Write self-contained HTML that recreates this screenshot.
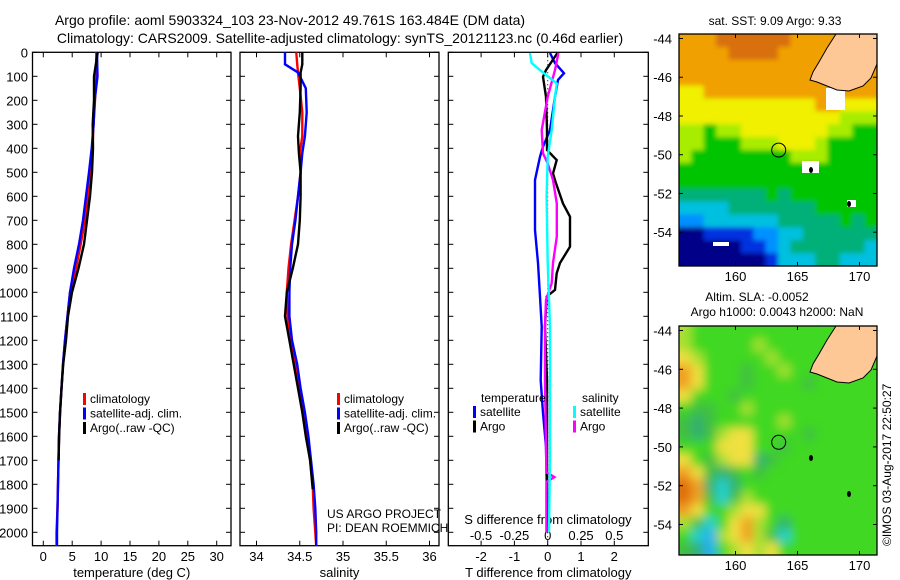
<!DOCTYPE html>
<html><head><meta charset="utf-8">
<style>
html,body{margin:0;padding:0;background:#fff;}
svg{display:block;font-family:"Liberation Sans",Arial,sans-serif;}
text{fill:#000;}
</style></head>
<body>
<svg id="fig" width="900" height="580" viewBox="0 0 900 580" xmlns="http://www.w3.org/2000/svg">
<defs>
<filter id="blurS" x="-5%" y="-5%" width="110%" height="110%"><feGaussianBlur stdDeviation="2.5"/></filter>
<filter id="blurL" x="-5%" y="-5%" width="110%" height="110%"><feGaussianBlur stdDeviation="5"/></filter>
<clipPath id="clip1"><rect x="679" y="34" width="198" height="232"/></clipPath>
<clipPath id="clip2"><rect x="679" y="326" width="198" height="229"/></clipPath>
</defs>
<text x="290" y="25" font-size="14" text-anchor="middle">Argo profile: aoml 5903324_103 23-Nov-2012 49.761S 163.484E (DM data)</text>
<text x="340" y="43" font-size="14" text-anchor="middle">Climatology: CARS2009. Satellite-adjusted climatology: synTS_20121123.nc (0.46d earlier)</text>
<g id="p1"></g>
<g id="p2"></g>
<g id="p3"></g>
<g id="m1"></g>
<g id="m2"></g>
<text x="327" y="518" font-size="12">US ARGO PROJECT</text>
<text x="327" y="532" font-size="12">PI: DEAN ROEMMICH</text>
<text transform="translate(891,546) rotate(-90)" font-size="12">©IMOS 03-Aug-2017 22:50:27</text>
</svg>
<script>
// ---------- data ----------
const depthTicks = [0,100,200,300,400,500,600,700,800,900,1000,1100,1200,1300,1400,1500,1600,1700,1800,1900,2000];
const tempTicks = [0,5,10,15,20,25,30];
const salTicks = [34,34.5,35,35.5,36];
const salTickLabels = ["34","34.5","35","35.5","36"];
const tdiffTicks = [-2,-1,0,1,2];
const sdiffTicks = [-0.5,-0.25,0,0.25,0.5];
const sdiffTickLabels = ["-0.5","-0.25","0","0.25","0.5"];

const tDepth = [0,100,200,300,400,500,600,700,800,900,1000,1100,1200,1300,1400,1500,1600,1700,1800,1900,2000,2057];
const tempClim = [9.17,9.12,8.94,8.68,8.51,8.2,7.73,7.21,6.47,5.66,4.62,4.19,3.75,3.41,3.15,2.89,2.72,2.63,2.54,2.46,2.28,2.28];
const tempSat  = [9.29,9.38,8.89,8.7,8.37,7.9,7.39,6.87,6.18,5.31,4.62,4.19,3.75,3.41,3.15,2.89,2.72,2.63,2.54,2.46,2.37,2.37];
const tempArgoDepth = [0,100,200,300,400,500,600,700,800,900,1000,1100,1200,1300,1400,1500,1600,1700];
const tempArgo = [9.41,8.77,8.77,8.55,8.6,8.43,8.08,7.56,7.04,6.09,4.97,4.27,3.93,3.45,3.15,2.9,2.73,2.64];

const sDepth = [0,50,84,150,250,350,420,500,600,700,800,900,1000,1100,1200,1300,1400,1500,1600,1700,1800,1900,2000,2057];
const salClim = [34.46,34.47,34.48,34.5,34.53,34.53,34.5,34.51,34.48,34.44,34.4,34.37,34.35,34.36,34.39,34.45,34.49,34.54,34.58,34.62,34.65,34.66,34.68,34.69];
const salSat  = [34.33,34.33,34.48,34.57,34.58,34.56,34.53,34.51,34.48,34.45,34.41,34.39,34.38,34.38,34.41,34.47,34.51,34.56,34.60,34.63,34.66,34.68,34.69,34.69];
const salArgoDepth = [0,50,84,150,250,350,420,500,600,700,800,900,1000,1100,1200,1300,1400,1500,1600,1700,1820];
const salArgo = [34.53,34.53,34.51,34.51,34.5,34.48,34.49,34.51,34.51,34.5,34.48,34.42,34.35,34.33,34.38,34.43,34.48,34.53,34.57,34.62,34.65];

const tArgoDiffDepth = [3,74,102,185,324,407,449,505,546,630,685,810,878,921,990,1018,1143,1367,1700,2000];
const tArgoDiff = [0.29,-0.05,-0.14,-0.05,-0.02,-0.02,0.27,0.16,0.25,0.46,0.67,0.67,0.37,0.27,0.22,-0.03,-0.08,-0.02,-0.02,-0.02];
const tSatDiffDepth = [3,45,87,115,185,324,393,435,532,740,878,1018,1143,1367,1503,1644,1852,2000];
const tSatDiff = [0.07,0.22,0.49,0.31,0.22,0.07,-0.14,-0.23,-0.38,-0.38,-0.29,-0.23,-0.18,-0.21,-0.14,-0.05,-0.02,-0.02];
const sArgoDiffDepth = [3,74,185,324,421,463,532,630,768,878,962,1032,1143,1367,1750,1770,1790,2000];
const sArgoDiff = [0.08,0.055,0,-0.045,-0.035,0,0.04,0.068,0.068,0.04,0.03,-0.013,-0.02,-0.02,-0.01,0.05,-0.01,-0.01];
const sSatDiffDepth = [3,45,74,130,185,324,435,600,878,1143,1367,1700,2000];
const sSatDiff = [-0.133,-0.12,-0.058,0.068,0.055,0.03,0,-0.008,0,0.017,0.017,0.017,0.01];

const latTicks = [-44,-46,-48,-50,-52,-54];
const lonTicks = [160,165,170];
const argoLat = -49.761, argoLon = 163.484;
const sstGrid = [
"8889999998888888","8888999988888888","8888888888888888","8888888888888888",
"7788888888888888","7777777777788777","7777777777777666","6656677777776655",
"6655566677765555","6555555556665555","5555555555555555","5555555555555555",
"4444444545555555","3333444444455555","2233333344444545","0011112233444444",
"0000011234444443","0000000133344333"];
const slaGrid = [
"6555555555555555","6555556555555555","7655555655555555","8755545565555555",
"8755545555455555","7555455555555555","5445565555555555","4345555565555555",
"4346775555455555","5557775545555555","7546773455555555","8743454555555555",
"9832355555555555","9842465555555555","8755677555555555","6425786535555555",
"5216786425555555","4315676755555555"];

// ---------- helpers ----------
const NS="http://www.w3.org/2000/svg";
function mk(parent,tag,attrs,txt){const e=document.createElementNS(NS,tag);for(const k in attrs)e.setAttribute(k,attrs[k]);if(txt!==undefined)e.textContent=txt;parent.appendChild(e);return e;}
const Y0=52.3, YS=0.24, YB=545.7;
const yD = d => Y0 + d*YS;

function panel(g,x0,x1,xScale,ticks,labels,axisLabel){
  const f=mk(g,'rect',{x:x0,y:Y0,width:x1-x0,height:YB-Y0,fill:'none',stroke:'#000','stroke-width':1.3});
  
  
  depthTicks.forEach(d=>{
    const t1=mk(g,'line',{x1:x0,x2:x0+5,y1:yD(d),y2:yD(d),stroke:'#000'});
    
    
    const t2=mk(g,'line',{x1:x1-5,x2:x1,y1:yD(d),y2:yD(d),stroke:'#000'});
    
    
  });
  ticks.forEach((v,i)=>{
    const x=xScale(v);
    const a=mk(g,'line',{x1:x,x2:x,y1:Y0,y2:Y0+5,stroke:'#000'});
    
    
    const b=mk(g,'line',{x1:x,x2:x,y1:YB-5,y2:YB,stroke:'#000'});
    
    
    const l=mk(g,'text',{x:x,y:561,'font-size':13,'text-anchor':'middle'},labels[i]);
    
    
  });
  const al=mk(g,'text',{x:(x0+x1)/2,y:577,'font-size':13,'text-anchor':'middle'},axisLabel);
  
  
}
function series(g,xs,ds,xScale,color,name){
  const pts=xs.map((v,i)=>xScale(v).toFixed(1)+','+yD(ds[i]).toFixed(1)).join(' ');
  const p=mk(g,'polyline',{points:pts,fill:'none',stroke:color,'stroke-width':2.4,'stroke-linejoin':'miter'});
  
  
}
function legend(g,x,y,items){
  items.forEach((it,i)=>{
    const m=mk(g,'rect',{x:x,y:y+i*14.5-10,width:3,height:12,fill:it[0]});
    
    
    const t=mk(g,'text',{x:x+7,y:y+i*14.5,'font-size':12},it[1]);
    
    
  });
}

// ---------- panel 1 ----------
const p1=document.getElementById('p1');
const xT = v => 43.3 + v*5.78;
panel(p1,32.5,231,xT,tempTicks,tempTicks.map(String),'temperature (deg C)');
depthTicks.forEach(d=>{
  const t=mk(p1,'text',{x:28,y:yD(d)+5,'font-size':13,'text-anchor':'end'},String(d));
  
  
});
series(p1,tempClim,tDepth,xT,'#ff0000','temp-climatology-line');
series(p1,tempSat,tDepth,xT,'#0000ff','temp-satellite-line');
series(p1,tempArgo,tempArgoDepth,xT,'#000000','temp-argo-line');
legend(p1,83,403,[['#ff0000','climatology'],['#0000ff','satellite-adj. clim.'],['#000000','Argo(..raw -QC)']]);

// ---------- panel 2 ----------
const p2=document.getElementById('p2');
const xS = v => 256.5 + (v-34)*86.5;
panel(p2,240,439,xS,salTicks,salTickLabels,'salinity');
series(p2,salClim,sDepth,xS,'#ff0000','sal-climatology-line');
series(p2,salSat,sDepth,xS,'#0000ff','sal-satellite-line');
series(p2,salArgo,salArgoDepth,xS,'#000000','sal-argo-line');
legend(p2,337,403,[['#ff0000','climatology'],['#0000ff','satellite-adj. clim.'],['#000000','Argo(..raw -QC)']]);

// ---------- panel 3 ----------
const p3=document.getElementById('p3');
const xTD = v => 547.7 + v*33.3;
const xSD = v => 547.7 + v*133.3;
panel(p3,448.3,648.3,xTD,tdiffTicks,tdiffTicks.map(String),'T difference from climatology');
const zl=mk(p3,'line',{x1:xTD(0),x2:xTD(0),y1:Y0,y2:YB,stroke:'#000','stroke-dasharray':'1,3'});


sdiffTicks.forEach((v,i)=>{
  const t=mk(p3,'text',{x:xSD(v),y:540,'font-size':13,'text-anchor':'middle'},sdiffTickLabels[i]);
  
  
});
const st=mk(p3,'text',{x:548,y:524,'font-size':13,'text-anchor':'middle'},'S difference from climatology');


series(p3,tSatDiff,tSatDiffDepth,xTD,'#0000ff','t-diff-satellite-line');
series(p3,tArgoDiff,tArgoDiffDepth,xTD,'#000000','t-diff-argo-line');
series(p3,sArgoDiff,sArgoDiffDepth,xSD,'#ff00ff','s-diff-argo-line');
series(p3,sSatDiff,sSatDiffDepth,xSD,'#00ffff','s-diff-satellite-line');
const lt=mk(p3,'text',{x:481,y:402,'font-size':12},'temperature');


const ls=mk(p3,'text',{x:582,y:402,'font-size':12},'salinity');


legend(p3,473,416,[['#0000ff','satellite'],['#000000','Argo']]);
legend(p3,573,416,[['#00ffff','satellite'],['#ff00ff','Argo']]);

// ---------- maps ----------
const sstPal=['#000088','#0030e0','#0090ff','#00c0e0','#00b078','#00c400','#a8ec00','#f0f000','#f0a000','#d87010'];
const slaPal=['#1090f0','#20b0f0','#20d0d0','#30b070','#40c040','#40d820','#a8e030','#f0e040','#f0a020','#e07010'];
const landPts=[[157,0],[198,0],[198,30],[192,44],[184,52],[170,57],[158,56],[148,52],[138,48],[131,46],[134,38],[140,28],[148,14]];
function map(id,clip,blur,x0,y0,y1,latA,latB,grid,pal,title,whites,islands){
  const g=document.getElementById(id);
  const W=198,H=y1-y0;
  const rows=grid.length, cols=grid[0].length;
  const cw=W/cols, ch=H/rows;
  const cg=mk(g,'g',{'clip-path':'url(#'+clip+')'});
  
  
  const bg=mk(cg,'g',{filter:'url(#'+blur+')'});
  grid.forEach((row,r)=>{[...row].forEach((c,k)=>{
    const cell=mk(bg,'rect',{x:(x0+k*cw-(k===0?8:0)).toFixed(2),y:(y0+r*ch-(r===0?8:0)).toFixed(2),width:(cw+0.5+(k===0||k===cols-1?8:0)).toFixed(2),height:(ch+0.5+(r===0||r===rows-1?8:0)).toFixed(2),fill:pal[+c]});
    
    
  });});
  (whites||[]).forEach(w=>{
    const wr=mk(g,'rect',{x:x0+w[0],y:y0+w[1],width:w[2],height:w[3],fill:'#fff'});
    
    
  });
  const land=mk(g,'polygon',{points:landPts.map(p=>(x0+p[0])+','+(y0+p[1])).join(' '),fill:'#fdc896',stroke:'#000','stroke-width':1});
  
  
  islands.forEach(p=>{
    const isl=mk(g,'ellipse',{cx:x0+p[0],cy:y0+p[1],rx:2,ry:3,fill:'#000'});
    
    
  });
  const yL = lat => y0 + 4.5 + (latA-lat)*latB;
  const xL = lon => 735.5 + (lon-160)*12.4;
  const fr=mk(g,'rect',{x:x0,y:y0,width:W,height:H,fill:'none',stroke:'#000','stroke-width':1.3});
  
  
  latTicks.forEach(l=>{
    const t=mk(g,'line',{x1:x0,x2:x0+4,y1:yL(l),y2:yL(l),stroke:'#000'});
    
    
    const t2=mk(g,'line',{x1:x0+W-4,x2:x0+W,y1:yL(l),y2:yL(l),stroke:'#000'});
    
    
    const lb=mk(g,'text',{x:x0-7,y:yL(l)+5,'font-size':13,'text-anchor':'end'},String(l));
    
    
  });
  lonTicks.forEach(l=>{
    const t=mk(g,'line',{x1:xL(l),x2:xL(l),y1:y1-4,y2:y1,stroke:'#000'});
    
    
    const t2=mk(g,'line',{x1:xL(l),x2:xL(l),y1:y0,y2:y0+4,stroke:'#000'});
    
    
    const lb=mk(g,'text',{x:xL(l),y:y1+15,'font-size':13,'text-anchor':'middle'},String(l));
    
    
  });
  const c=mk(g,'circle',{cx:xL(argoLon),cy:yL(argoLat),r:7,fill:'none',stroke:'#000','stroke-width':1});
  
  
  title.forEach((t,i)=>{
    const tt=mk(g,'text',{x:t[1],y:t[2],'font-size':12,'text-anchor':'middle'},t[0]);
    
    
  });
}
map('m1','clip1','blurS',679,34,266,-44,19.37,sstGrid,sstPal,[['sat. SST: 9.09 Argo: 9.33',775,25]],
  [[123,127,17,12],[168,166,9,7],[34,208,16,4],[147,54,19,22]],[[132,136],[170,170]]);
map('m2','clip2','blurL',679,326,555,-44,19.4,slaGrid,slaPal,[['Altim. SLA: -0.0052',757,301],['Argo h1000: 0.0043 h2000: NaN',777,316]],[],[[132,132],[170,168]]);
</script>
</body></html>
